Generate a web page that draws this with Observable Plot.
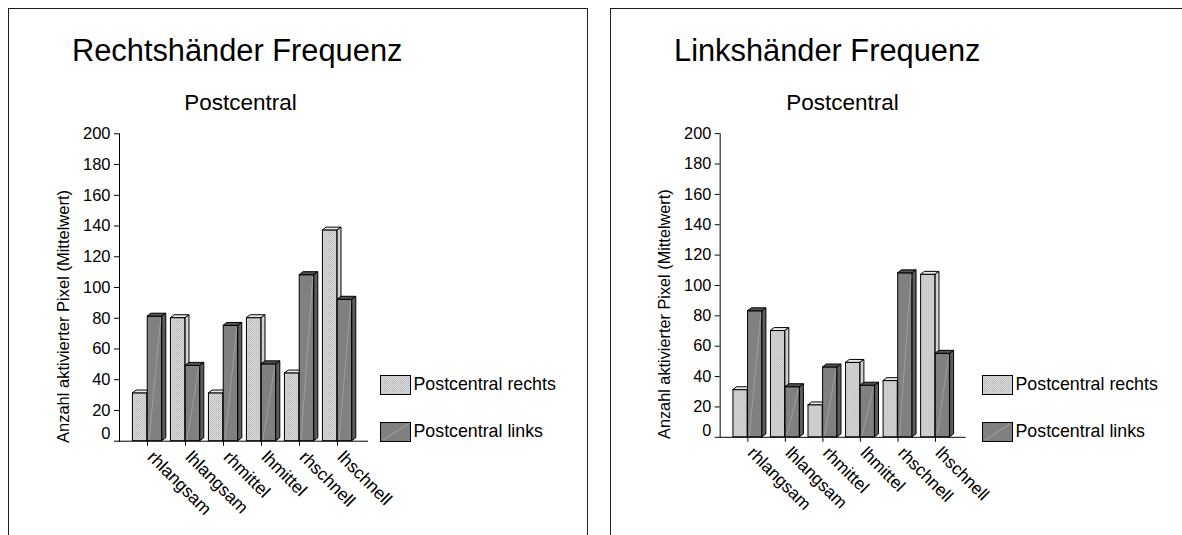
<!DOCTYPE html>
<html>
<head>
<meta charset="utf-8">
<script src="https://cdn.jsdelivr.net/npm/d3@7"></script>
<script src="https://cdn.jsdelivr.net/npm/@observablehq/plot@0.6"></script>
<style>
  body { margin: 0; background: #fff; width: 1182px; height: 535px; overflow: hidden; position: relative;
         font-family: "Liberation Sans", Arial, sans-serif; color: #000; }
  .frame { position: absolute; top: 8px; width: 580px; height: 560px; box-sizing: border-box;
           border: 1px solid #1e1e1e; border-bottom: none; }
  .t { position: absolute; line-height: 1; white-space: nowrap; }
  .chart { position: absolute; top: 120px; }
  .swatch { position: absolute; width: 31px; height: 20px; }
</style>
</head>
<body>
<script>
// Categories (conditions) and the two series per condition
const categories = ["rhlangsam", "lhlangsam", "rhmittel", "lhmittel", "rhschnell", "lhschnell"];
const seriesNames = ["Postcentral rechts", "Postcentral links"];
const yTicks = [0, 20, 40, 60, 80, 100, 120, 140, 160, 180, 200];

// Right-handed subjects, mean number of activated pixels
const rechtshaenderRechts = [31, 80, 31, 80, 44, 137];
const rechtshaenderLinks  = [81, 49, 75, 50, 108, 92];

// Left-handed subjects, mean number of activated pixels
const linkshaenderRechts = [31, 70, 21, 49, 37, 107];
const linkshaenderLinks  = [83, 33, 46, 34, 108, 55];

const panelTitles = ["Rechtshänder Frequenz", "Linkshänder Frequenz"];
const subtitle = "Postcentral";
const yLabel = "Anzahl aktivierter Pixel (Mittelwert)";

// bar geometry (pixels)
const BAR = 14.8;      // width of one bar
const DX = 4, DY = 3;  // depth of the extruded 3D faces
const BAND = (349.5 - 118.8) / categories.length;
const HALF = BAND / 2;

const LIGHT_CAP = "#ececec", LIGHT_SIDE = "#d2d2d2";
const DARK = "#808080", DARK_CAP = "#525252", DARK_SIDE = "#5c5c5c";

function ditherDefs(id) {
  return () => {
    const d = d3.create("svg:defs");
    const p = d.append("pattern").attr("id", id).attr("width", 2).attr("height", 2)
      .attr("patternUnits", "userSpaceOnUse");
    p.append("rect").attr("width", 2).attr("height", 2).attr("fill", "#dadada");
    p.append("rect").attr("width", 1).attr("height", 1).attr("fill", "#bababa");
    p.append("rect").attr("x", 1).attr("y", 1).attr("width", 1).attr("height", 1).attr("fill", "#c4c4c4");
    return d.node();
  };
}

// top and right faces of each bar, placed from the x and y scales
function faces(rows, key, lo, hi, cap, side, diagonal) {
  return (index, scales) => {
    const {x, y} = scales;
    const bw = x.bandwidth ? x.bandwidth() : BAND;
    const y0 = y(0);
    const g = d3.create("svg:g").attr("stroke", "#000").attr("stroke-width", 1).attr("stroke-linejoin", "round");
    for (const r of rows) {
      const c = x(r.c) + bw / 2;
      const x0 = c + lo, x1 = c + hi, yt = y(r[key]);
      g.append("path").attr("fill", cap)
        .attr("d", `M${x0},${yt}L${x0 + DX},${yt - DY}L${x1 + DX},${yt - DY}L${x1},${yt}Z`);
      g.append("path").attr("fill", side)
        .attr("d", `M${x1},${yt}L${x1 + DX},${yt - DY}L${x1 + DX},${y0 - DY}L${x1},${y0}Z`);
      if (diagonal) {
        g.append("line").attr("stroke", "#b4b4b4").attr("stroke-width", 0.7).attr("opacity", 0.8)
          .attr("x1", x0 + 2).attr("y1", y0 - 1).attr("x2", x1 - 1).attr("y2", yt + 2);
      }
    }
    return g.node();
  };
}

function chart(id, rechts, links) {
  const rows = categories.map((c, i) => ({c, rechts: rechts[i], links: links[i]}));
  const fillId = `dither-${id}`;
  return Plot.plot({
    width: 579,
    height: 415,
    marginLeft: 111,
    marginRight: 219,
    marginTop: 13.3,
    marginBottom: 94.3,
    x: {domain: categories, range: [118.8, 349.5], padding: 0},
    y: {domain: [0, 200]},
    style: {fontFamily: "'Liberation Sans', Arial, sans-serif", fontSize: "16.5px", color: "#000",
            background: "transparent", overflow: "visible"},
    marks: [
      ditherDefs(fillId),
      Plot.axisY({ticks: yTicks.filter(d => d > 0), tickSize: 5, tickPadding: 4, label: null}),
      Plot.axisY({ticks: [0], tickSize: 5, tickFormat: () => "", label: null}),
      Plot.axisY({ticks: [0], tickSize: 0, tickPadding: 9, dy: -7, label: null}),
      Plot.axisX({tickSize: 5, tickFormat: () => "", label: null}),
      Plot.axisX({tickRotate: 45, tickSize: 0, tickPadding: 9, dx: 3, dy: 4, label: null, fontSize: 17.5}),
      faces(rows, "rechts", -BAR, 0, LIGHT_CAP, LIGHT_SIDE, false),
      Plot.barY(rows, {x: "c", y: "rechts", fill: `url(#${fillId})`, stroke: "#000", strokeWidth: 1,
                       insetLeft: HALF - BAR, insetRight: HALF}),
      Plot.barY(rows, {x: "c", y: "links", fill: DARK, stroke: "#000", strokeWidth: 1,
                       insetLeft: HALF, insetRight: HALF - BAR}),
      faces(rows, "links", 0, BAR, DARK_CAP, DARK_SIDE, true),
      Plot.ruleY([0], {stroke: "#000", strokeWidth: 1}),
      Plot.frame({anchor: "left", stroke: "#000", strokeWidth: 1}),
      Plot.text([yLabel], {frameAnchor: "left", rotate: -90, textAnchor: "middle",
                           dx: -56, dy: 29, fontSize: 16.5})
    ]
  });
}

function swatch(light, id) {
  const s = d3.create("svg").attr("width", 31).attr("height", 20);
  if (light) {
    const p = s.append("defs").append("pattern").attr("id", id).attr("width", 2).attr("height", 2)
      .attr("patternUnits", "userSpaceOnUse");
    p.append("rect").attr("width", 2).attr("height", 2).attr("fill", "#dadada");
    p.append("rect").attr("width", 1).attr("height", 1).attr("fill", "#bababa");
    p.append("rect").attr("x", 1).attr("y", 1).attr("width", 1).attr("height", 1).attr("fill", "#c4c4c4");
  }
  s.append("rect").attr("x", 0.5).attr("y", 0.5).attr("width", 30).attr("height", 19)
    .attr("fill", light ? `url(#${id})` : DARK).attr("stroke", "#000");
  if (!light) {
    s.append("line").attr("x1", 3).attr("y1", 18).attr("x2", 28).attr("y2", 2)
      .attr("stroke", "#b4b4b4").attr("stroke-width", 0.7);
  }
  return s.node();
}

function text(str, left, top, size, extra = {}) {
  const d = document.createElement("div");
  d.className = "t";
  d.textContent = str;
  Object.assign(d.style, {left: `${left}px`, top: `${top}px`, fontSize: `${size}px`}, extra);
  document.body.appendChild(d);
  return d;
}

const panels = [
  {x0: 8, title: panelTitles[0], rechts: rechtshaenderRechts, links: rechtshaenderLinks},
  {x0: 610, title: panelTitles[1], rechts: linkshaenderRechts, links: linkshaenderLinks}
];

panels.forEach((p, i) => {
  const frame = document.createElement("div");
  frame.className = "frame";
  frame.style.left = `${p.x0}px`;
  document.body.appendChild(frame);

  // titles (baseline ≈ 0.8465 em below the top of a line-height:1 box)
  text(p.title, p.x0 + 64, 62 - 0.8465 * 30.8, 30.8);
  const sub = text(subtitle, p.x0 + 232.5, 111 - 0.8465 * 22.5, 22.5);
  sub.style.transform = "translateX(-50%)";

  const holder = document.createElement("div");
  holder.className = "chart";
  holder.style.left = `${p.x0}px`;
  holder.appendChild(chart(i, p.rechts, p.links));
  document.body.appendChild(holder);

  // legend
  seriesNames.forEach((name, k) => {
    const sw = document.createElement("div");
    sw.className = "swatch";
    sw.style.left = `${p.x0 + 372}px`;
    sw.style.top = `${k === 0 ? 375 : 422}px`;
    sw.appendChild(swatch(k === 0, `legend-dither-${i}`));
    document.body.appendChild(sw);
    const base = k === 0 ? 391.5 : 438.3;
    text(name, p.x0 + 405.5, base - 0.8465 * 17.8, 17.8);
  });
});
</script>
</body>
</html>
